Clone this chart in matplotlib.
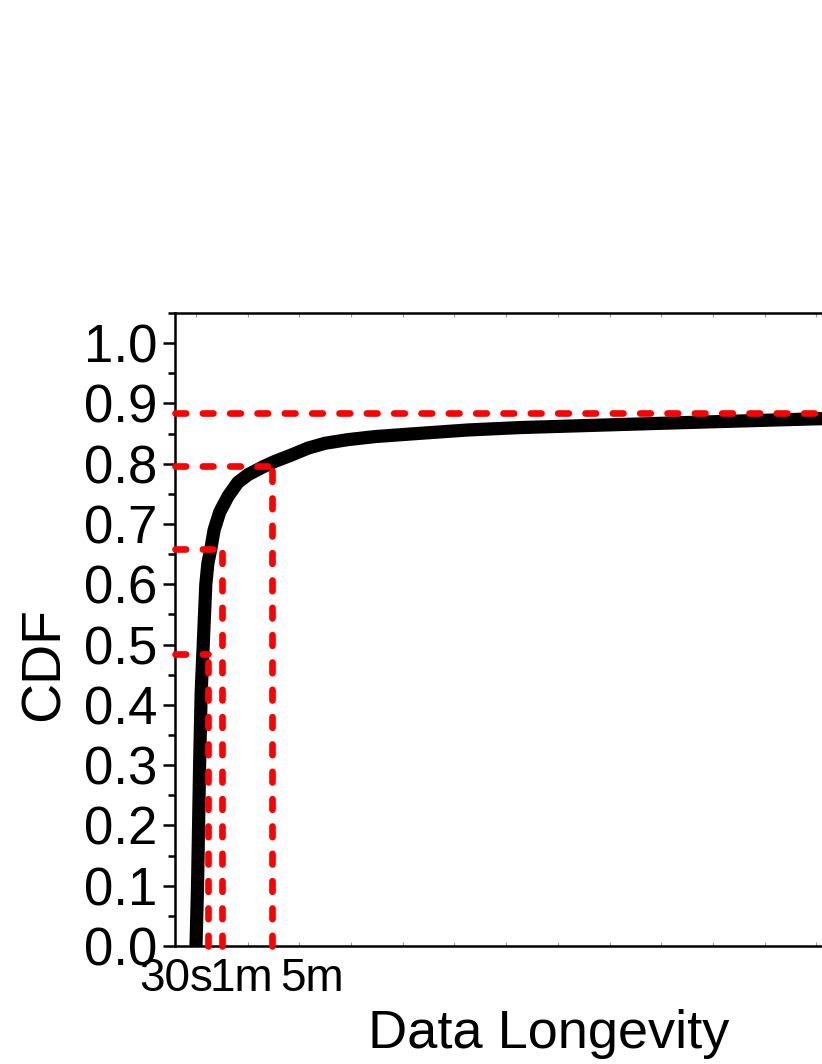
import numpy as np
import matplotlib
matplotlib.use("Agg")
import matplotlib.pyplot as plt

plt.rcParams['font.family'] = ['Liberation Sans', 'DejaVu Sans']

# CDF curve (x in axis units, one unit = one minor tick step)
curve_x = [0.0, 0.03, 0.05, 0.07, 0.10, 0.14, 0.19, 0.23, 0.29, 0.35, 0.46, 0.62, 0.81,
           1.01, 1.30, 1.53, 1.86, 2.17, 2.50, 2.94, 3.46, 4.10, 4.76, 5.26,
           6.27, 7.81, 9.75, 12.2]
curve_y = [0.0, 0.10, 0.20, 0.30, 0.42, 0.50, 0.60, 0.635, 0.66, 0.69, 0.72, 0.746, 0.769,
           0.782, 0.795, 0.804, 0.815, 0.826, 0.834, 0.840, 0.845, 0.849, 0.853, 0.856,
           0.860, 0.864, 0.869, 0.875]

# reference markers: 30s, 1m, 5m
guide_x = [0.23, 0.50, 1.48]
guide_y = [0.485, 0.659, 0.797]
top_level = 0.884

tick_labels = ['30s', '1m', '5m']
tick_label_x = [-0.38, 0.87, 2.25]

fig = plt.figure(figsize=(8.22, 10.64), dpi=100)
ax = fig.add_axes([0.2129, 0.1109, 0.7871, 0.5949])

xmin, xmax = -0.406, 12.11
ax.set_xlim(xmin, xmax)
ax.set_ylim(0, 1.05)

ax.plot(curve_x, curve_y, color='black', lw=9.5, solid_capstyle='butt',
        solid_joinstyle='round', zorder=2)

dash = dict(color='red', lw=4.8, linestyle=(0, (1.6, 2.5)),
            dash_capstyle='round', zorder=3, clip_on=False)
for gx, gy in zip(guide_x, guide_y):
    ax.plot([gx, gx], [0, gy], **dash)
    ax.plot([xmin, gx], [gy, gy], **dash)
ax.plot([xmin, xmax], [top_level, top_level], **dash)

# y axis
ax.set_yticks(np.arange(0, 1.01, 0.1))
ax.set_yticklabels([f'{v:.1f}' for v in np.arange(0, 1.01, 0.1)])
ax.set_yticks(np.arange(0.05, 1.06, 0.1), minor=True)
ax.tick_params(axis='y', which='major', direction='out', length=9, width=1.8,
               labelsize=38, pad=4)
ax.tick_params(axis='y', which='minor', direction='out', length=5, width=1.8)

# x axis
ax.set_xticks(tick_label_x)
ax.set_xticklabels(tick_labels)
ax.set_xticks(np.arange(0, 13), minor=True)
ax.tick_params(axis='x', which='major', length=0, labelsize=33, pad=8)
ax.tick_params(axis='x', which='minor', direction='in', length=3, width=0.8,
               color='#999999', top=True, bottom=True)

for side in ['left', 'bottom', 'top']:
    ax.spines[side].set_linewidth(1.8)
ax.spines['right'].set_visible(False)

ax.set_xlabel('Data Longevity', fontsize=39)
ax.xaxis.set_label_coords(0.578, -0.1)
ax.set_ylabel('CDF', fontsize=40)
ax.yaxis.set_label_coords(-0.161, 0.446)

fig.savefig('out.png', dpi=100)
